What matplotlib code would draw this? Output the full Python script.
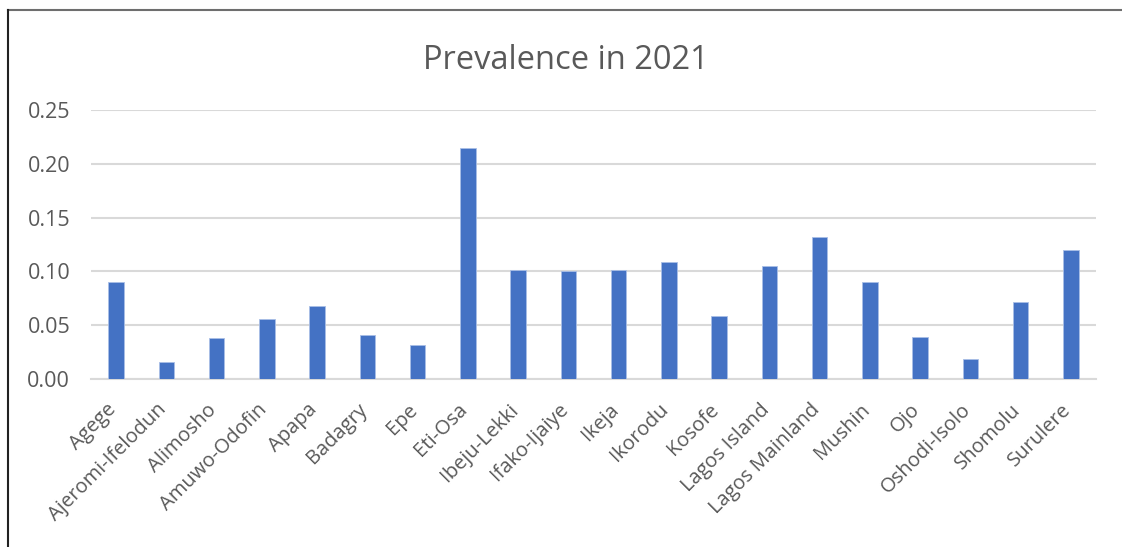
import matplotlib
matplotlib.use("Agg")
import matplotlib.pyplot as plt
from matplotlib.lines import Line2D

AREAS = [
    "Agege", "Ajeromi-Ifelodun", "Alimosho", "Amuwo-Odofin", "Apapa",
    "Badagry", "Epe", "Eti-Osa", "Ibeju-Lekki", "Ifako-Ijaiye",
    "Ikeja", "Ikorodu", "Kosofe", "Lagos Island", "Lagos Mainland",
    "Mushin", "Ojo", "Oshodi-Isolo", "Shomolu", "Surulere",
]
PREVALENCE = [
    0.090, 0.0155, 0.038, 0.056, 0.068,
    0.0405, 0.032, 0.215, 0.101, 0.100,
    0.101, 0.109, 0.059, 0.105, 0.132,
    0.090, 0.039, 0.019, 0.0715, 0.120,
]
Y_TICKS = [0.00, 0.05, 0.10, 0.15, 0.20, 0.25]

BAR = "#4472C4"
TEXT = "#595959"
GRID = "#D9D9D9"

plt.rcParams["font.family"] = ["Open Sans", "DejaVu Sans"]

fig = plt.figure(figsize=(11.22, 5.47), dpi=100)
ax = fig.add_axes([0.0811, 0.3071, 0.8957, 0.4918])

x = list(range(len(AREAS)))
ax.bar(x, PREVALENCE, width=0.31, color=BAR, edgecolor="#A9BFE6", linewidth=0.6, zorder=3)

ax.set_xlim(-0.5, len(AREAS) - 0.5)
ax.set_ylim(0, 0.25)
ax.set_yticks(Y_TICKS)
ax.set_yticklabels([f"{v:.2f}" for v in Y_TICKS])
ax.yaxis.grid(True, color=GRID, linewidth=1.5, zorder=0)
ax.set_axisbelow(True)

# ticks are hidden, so place them slightly left of each bar: the rotated
# labels then end just short of the bar centre
ax.set_xticks([i - 0.2 for i in x])
ax.set_xticklabels(AREAS, rotation=45, ha="right", rotation_mode="anchor")

for side in ("top", "right", "left"):
    ax.spines[side].set_visible(False)
ax.spines["bottom"].set_color(GRID)
ax.spines["bottom"].set_linewidth(1.5)

ax.tick_params(axis="y", length=0, pad=15, labelsize=15.5, labelcolor=TEXT)
ax.tick_params(axis="x", length=0, pad=15, labelsize=14.5, labelcolor=TEXT)

fig.text(0.504, 0.889, "Prevalence in 2021", ha="center", va="center",
         fontsize=23.5, color=TEXT)

# outer frame (top and left edges)
fig.add_artist(Line2D([0.007, 1.0], [0.981, 0.981], color="#6E6E6E", linewidth=1.5))
fig.add_artist(Line2D([0.0075, 0.0075], [0.0, 0.981], color="#222222", linewidth=1.5))

fig.savefig("out.png", dpi=100, facecolor="white")
